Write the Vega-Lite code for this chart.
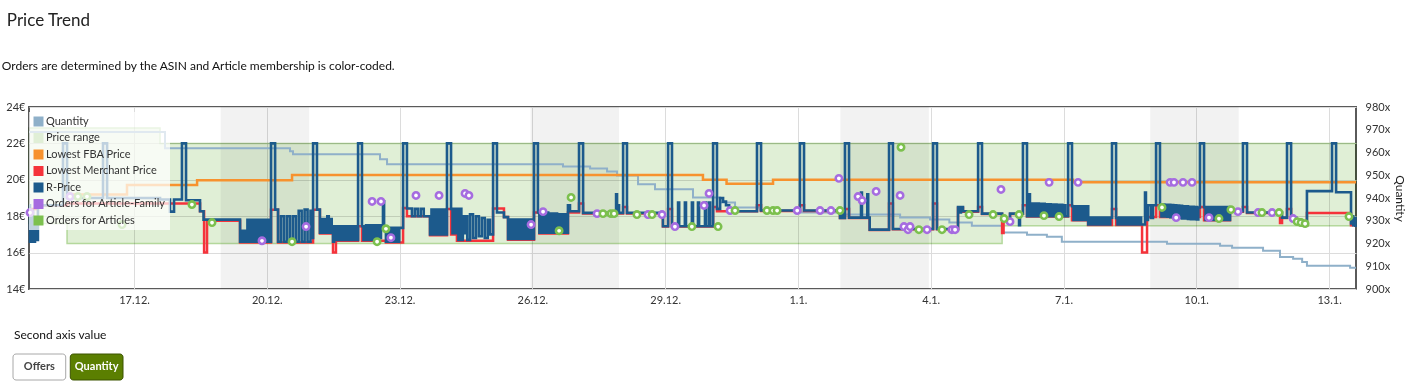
{
"$schema": "https://vega.github.io/schema/vega-lite/v6.json",
"padding": {"left": 0, "top": 12, "right": 0, "bottom": 0},
"background": "#ffffff",
"title": {"text": "Price Trend", "anchor": "start", "frame": "bounds", "fontSize": 17, "fontWeight": "normal", "font": "Lato", "color": "#222222", "offset": 29, "dx": 6},
"spacing": 22,
"config": {
  "font": "Lato",
  "view": {"stroke": null},
  "axis": {"labelFont": "Lato", "labelFontSize": 11, "labelColor": "#333333", "gridColor": "#dcdcdc", "gridWidth": 1, "titleFont": "Lato"},
  "legend": {"labelFont": "Lato"}
},
"datasets": {
  "we": [{"h":119,"h2":167},{"h":287,"h2":335},{"h":455,"h2":503},{"h":623,"h2":671}],
  "rng": [{"h":15.1,"lo":17.6,"hi":22.85},{"h":35.7,"lo":16.5,"hi":22.85},{"h":86.1,"lo":16.5,"hi":22.0},{"h":542.7,"lo":17.48,"hi":22.0},{"h":734.6,"lo":17.48,"hi":22.0}],
  "qty": [{"h":15.1,"q":969.0},{"h":88.8,"q":961.9},{"h":156.6,"q":960.6},{"h":158.2,"q":959.2},{"h":205.4,"q":957.0},{"h":209.2,"q":954.8},{"h":304.6,"q":953.9},{"h":319.3,"q":953.0},{"h":328.5,"q":951.7},{"h":333.9,"q":949.9},{"h":345.3,"q":946.0},{"h":354.5,"q":943.8},{"h":375.1,"q":940.2},{"h":389.8,"q":938.0},{"h":397.9,"q":935.8},{"h":411.4,"q":934.5},{"h":433.1,"q":933.6},{"h":454.8,"q":932.7},{"h":487.4,"q":931.4},{"h":503.6,"q":930.5},{"h":514.1,"q":929.2},{"h":526.3,"q":927.8},{"h":542.7,"q":924.8},{"h":556.2,"q":923.9},{"h":567.0,"q":923.0},{"h":575.1,"q":920.8},{"h":632.1,"q":919.9},{"h":660.9,"q":919.0},{"h":667.4,"q":918.1},{"h":684.2,"q":916.8},{"h":693.4,"q":914.1},{"h":700.5,"q":913.3},{"h":705.4,"q":911.9},{"h":708.0,"q":910.2},{"h":731.4,"q":909.3},{"h":734.6,"q":909.3}],
  "fba": [{"h":35.7,"p":19.19},{"h":68.2,"p":19.72},{"h":106.2,"p":19.98},{"h":157.7,"p":20.27},{"h":380.5,"p":20.0},{"h":393.3,"p":19.78},{"h":418.5,"p":20.0},{"h":581.2,"p":19.87},{"h":734.6,"p":19.87}],
  "mp": [{"h":15.1,"p":18.4},{"h":19.9,"p":18.6},{"h":35.7,"p":18.7},{"h":107.8,"p":18.27},{"h":110.0,"p":16.0},{"h":111.6,"p":17.75},{"h":129.5,"p":16.55},{"h":146.3,"p":18.36},{"h":150.1,"p":16.55},{"h":169.1,"p":18.36},{"h":172.8,"p":17.05},{"h":179.9,"p":16.0},{"h":181.5,"p":16.65},{"h":193.5,"p":17.45},{"h":195.6,"p":16.65},{"h":208.6,"p":16.55},{"h":217.9,"p":18.45},{"h":220.0,"p":18.0},{"h":232.5,"p":16.95},{"h":241.7,"p":18.4},{"h":243.9,"p":17.0},{"h":247.1,"p":16.65},{"h":266.7,"p":18.42},{"h":272.6,"p":17.95},{"h":274.8,"p":16.7},{"h":288.9,"p":18.2},{"h":291.8,"p":17.05},{"h":307.3,"p":18.2},{"h":313.3,"p":18.7},{"h":315.5,"p":18.15},{"h":337.2,"p":18.5},{"h":339.3,"p":18.15},{"h":358.8,"p":17.43},{"h":361.6,"p":18.4},{"h":363.7,"p":17.43},{"h":386.0,"p":18.5},{"h":388.1,"p":18.27},{"h":409.8,"p":18.6},{"h":412.0,"p":18.29},{"h":433.1,"p":18.6},{"h":435.3,"p":18.29},{"h":454.8,"p":17.9},{"h":457.5,"p":18.4},{"h":459.7,"p":17.9},{"h":470.9,"p":17.24},{"h":481.4,"p":18.7},{"h":483.5,"p":17.28},{"h":505.3,"p":18.7},{"h":507.4,"p":17.28},{"h":518.8,"p":18.45},{"h":521.5,"p":18.25},{"h":529.7,"p":18.5},{"h":531.8,"p":18.12},{"h":542.7,"p":17.08},{"h":543.5,"p":17.8},{"h":547.0,"p":18.12},{"h":554.0,"p":18.6},{"h":556.2,"p":17.98},{"h":578.5,"p":18.6},{"h":580.6,"p":17.78},{"h":589.3,"p":17.52},{"h":602.3,"p":18.4},{"h":604.5,"p":17.52},{"h":618.6,"p":16.0},{"h":621.3,"p":17.96},{"h":626.2,"p":18.6},{"h":628.3,"p":17.96},{"h":650.0,"p":18.5},{"h":652.2,"p":17.78},{"h":666.3,"p":18.25},{"h":673.3,"p":18.5},{"h":675.5,"p":18.18},{"h":693.4,"p":17.63},{"h":694.5,"p":17.9},{"h":697.2,"p":18.4},{"h":699.4,"p":17.9},{"h":702.1,"p":17.78},{"h":704.3,"p":17.58},{"h":706.4,"p":17.48},{"h":708.0,"p":18.18},{"h":731.9,"p":17.5},{"h":734.6,"p":17.5}],
  "rp": [{"h":15.1,"p":18.6},{"h":15.6,"p":16.6},{"h":16.4,"p":18.3},{"h":17.2,"p":16.6},{"h":18.3,"p":17.8},{"h":19.1,"p":16.7},{"h":19.9,"p":18.6},{"h":33.5,"p":22.0},{"h":35.7,"p":19.0},{"h":55.2,"p":22.0},{"h":57.4,"p":19.0},{"h":86.1,"p":18.92},{"h":91.5,"p":18.25},{"h":93.7,"p":18.92},{"h":98.0,"p":22.0},{"h":100.2,"p":18.88},{"h":107.8,"p":18.27},{"h":109.7,"p":17.81},
  {"h":129.5,"p":16.6},{"h":130.3,"p":17.2},{"h":131.1,"p":16.6},{"h":131.9,"p":17.2},{"h":132.7,"p":16.6},{"h":133.5,"p":17.8},{"h":134.3,"p":16.6},{"h":135.1,"p":17.8},{"h":135.9,"p":16.6},{"h":136.7,"p":17.8},{"h":137.5,"p":16.6},{"h":138.3,"p":17.8},{"h":139.1,"p":16.6},{"h":139.9,"p":17.8},{"h":140.7,"p":16.6},{"h":141.5,"p":17.8},{"h":142.3,"p":16.6},{"h":143.1,"p":17.8},{"h":143.9,"p":16.6},{"h":144.7,"p":17.8},{"h":145.5,"p":16.6},
  {"h":146.3,"p":22.0},{"h":148.5,"p":18.36},
  {"h":150.1,"p":16.6},{"h":151.7,"p":18.0},{"h":153.3,"p":16.6},{"h":154.9,"p":18.0},{"h":156.5,"p":16.6},{"h":158.1,"p":18.0},{"h":159.7,"p":16.6},{"h":161.3,"p":18.3},{"h":162.9,"p":16.6},{"h":164.5,"p":18.36},{"h":166.1,"p":16.6},{"h":167.7,"p":18.3},{"h":168.5,"p":16.8},
  {"h":169.1,"p":22.0},{"h":171.2,"p":18.36},
  {"h":172.8,"p":17.1},{"h":173.6,"p":17.85},{"h":174.4,"p":17.1},{"h":175.2,"p":17.85},{"h":176.0,"p":17.1},{"h":176.8,"p":18.0},{"h":177.6,"p":17.1},{"h":178.4,"p":17.85},{"h":179.2,"p":17.1},{"h":179.9,"p":16.6},
  {"h":180.5,"p":17.45},{"h":181.9,"p":16.7},{"h":183.2,"p":17.45},{"h":184.6,"p":16.7},{"h":185.9,"p":17.45},{"h":187.3,"p":16.7},{"h":188.6,"p":17.45},{"h":190.0,"p":16.7},{"h":191.4,"p":17.45},{"h":192.7,"p":16.7},
  {"h":193.5,"p":22.0},{"h":195.6,"p":17.45},
  {"h":196.4,"p":16.7},{"h":197.8,"p":17.5},{"h":199.1,"p":16.7},{"h":200.5,"p":17.5},{"h":201.8,"p":16.7},{"h":203.2,"p":17.5},{"h":204.5,"p":16.8},{"h":205.9,"p":17.5},{"h":207.0,"p":18.82},{"h":207.6,"p":17.3},
  {"h":208.6,"p":16.6},{"h":209.4,"p":17.36},{"h":210.2,"p":16.6},{"h":211.0,"p":17.36},{"h":211.8,"p":16.6},{"h":212.6,"p":17.36},{"h":213.4,"p":16.6},{"h":214.2,"p":17.36},{"h":215.0,"p":16.6},{"h":215.8,"p":17.36},
  {"h":217.9,"p":22.0},{"h":220.0,"p":18.42},
  {"h":222.7,"p":18.0},{"h":224.3,"p":18.4},{"h":225.9,"p":18.0},{"h":227.5,"p":18.4},{"h":229.1,"p":18.0},
  {"h":232.5,"p":17.0},{"h":233.3,"p":18.36},{"h":234.1,"p":17.0},{"h":234.9,"p":18.36},{"h":235.7,"p":17.0},{"h":236.5,"p":18.36},{"h":237.3,"p":17.0},{"h":238.1,"p":18.36},{"h":238.9,"p":17.0},{"h":239.7,"p":18.36},{"h":240.5,"p":17.0},
  {"h":241.7,"p":22.0},{"h":243.9,"p":18.4},
  {"h":244.7,"p":17.07},{"h":245.5,"p":18.4},{"h":246.3,"p":17.07},{"h":247.1,"p":18.4},{"h":247.9,"p":16.7},{"h":248.7,"p":18.4},{"h":249.5,"p":16.7},{"h":250.3,"p":18.0},{"h":251.1,"p":17.07},{"h":251.9,"p":18.0},
  {"h":252.7,"p":16.7},{"h":254.2,"p":18.1},{"h":255.8,"p":16.8},{"h":257.4,"p":18.0},{"h":259.0,"p":16.9},{"h":260.6,"p":17.9},{"h":262.2,"p":16.8},{"h":263.8,"p":17.8},{"h":265.0,"p":17.0},
  {"h":266.7,"p":22.0},{"h":268.8,"p":18.2},{"h":272.6,"p":17.95},
  {"h":274.8,"p":16.75},{"h":275.6,"p":17.81},{"h":276.4,"p":16.75},{"h":277.2,"p":17.81},{"h":278.0,"p":16.75},{"h":278.8,"p":17.81},{"h":279.6,"p":16.75},{"h":280.4,"p":17.81},{"h":281.2,"p":16.75},{"h":282.0,"p":17.81},{"h":282.8,"p":16.75},{"h":283.6,"p":17.81},{"h":284.4,"p":16.75},{"h":285.2,"p":17.81},{"h":286.0,"p":16.75},{"h":286.8,"p":17.81},{"h":287.6,"p":16.75},
  {"h":288.9,"p":22.0},{"h":291.0,"p":18.2},
  {"h":291.8,"p":17.1},{"h":292.6,"p":18.2},{"h":293.4,"p":17.1},{"h":294.2,"p":18.2},{"h":295.0,"p":17.1},{"h":295.8,"p":18.2},{"h":296.6,"p":17.1},{"h":297.4,"p":18.15},{"h":298.2,"p":17.1},{"h":299.0,"p":18.15},{"h":299.8,"p":17.1},{"h":300.6,"p":18.15},{"h":301.4,"p":17.1},{"h":302.2,"p":18.1},{"h":303.0,"p":17.1},{"h":303.8,"p":18.1},{"h":304.6,"p":17.1},{"h":305.4,"p":18.1},{"h":306.2,"p":17.1},
  {"h":307.3,"p":18.6},{"h":308.4,"p":18.27},
  {"h":313.3,"p":22.0},{"h":315.5,"p":18.18},{"h":333.4,"p":19.2},{"h":333.9,"p":18.18},{"h":334.4,"p":18.6},{"h":335.0,"p":18.18},
  {"h":337.2,"p":22.0},{"h":339.3,"p":18.18},{"h":358.8,"p":17.45},
  {"h":361.6,"p":22.0},{"h":363.7,"p":17.45},
  {"h":367.0,"p":18.75},{"h":367.6,"p":17.45},{"h":370.7,"p":18.75},{"h":371.3,"p":17.45},{"h":374.5,"p":18.75},{"h":375.1,"p":17.45},{"h":377.8,"p":18.75},{"h":378.4,"p":17.45},{"h":381.6,"p":18.75},{"h":382.2,"p":17.45},{"h":383.8,"p":18.75},{"h":384.4,"p":17.45},
  {"h":386.0,"p":22.0},{"h":388.1,"p":18.4},{"h":389.8,"p":19.0},{"h":391.4,"p":18.8},{"h":393.0,"p":18.6},{"h":394.7,"p":18.4},{"h":395.8,"p":18.27},
  {"h":409.8,"p":22.0},{"h":412.0,"p":18.31},
  {"h":433.1,"p":22.0},{"h":435.3,"p":18.31},
  {"h":454.8,"p":17.9},{"h":455.6,"p":18.2},{"h":456.4,"p":17.9},
  {"h":457.5,"p":22.0},{"h":459.7,"p":17.92},{"h":466.2,"p":19.3},{"h":466.7,"p":17.92},{"h":469.6,"p":19.2},{"h":470.1,"p":17.92},{"h":470.9,"p":17.26},
  {"h":481.4,"p":22.0},{"h":483.5,"p":17.3},
  {"h":505.3,"p":22.0},{"h":507.4,"p":17.3},
  {"h":518.8,"p":18.5},{"h":519.6,"p":18.2},{"h":520.4,"p":18.5},{"h":521.5,"p":18.27},
  {"h":529.7,"p":22.0},{"h":531.8,"p":18.14},{"h":542.7,"p":17.81},{"h":547.0,"p":18.14},{"h":551.9,"p":17.5},{"h":552.4,"p":18.14},
  {"h":554.0,"p":22.0},{"h":556.2,"p":18.0},{"h":557.3,"p":19.2},{"h":557.8,"p":18.0},
  {"h":558.6,"p":18.7},{"h":559.4,"p":18.0},{"h":560.2,"p":18.7},{"h":561.0,"p":18.0},{"h":561.8,"p":18.7},{"h":562.6,"p":18.0},{"h":563.4,"p":18.68},{"h":564.2,"p":18.0},{"h":565.0,"p":18.68},{"h":565.8,"p":18.0},{"h":566.6,"p":18.66},{"h":567.4,"p":18.0},{"h":568.2,"p":18.66},{"h":569.0,"p":18.0},{"h":569.8,"p":18.64},{"h":570.6,"p":18.0},{"h":571.4,"p":18.64},{"h":572.2,"p":18.0},{"h":573.0,"p":18.62},{"h":573.8,"p":18.0},{"h":574.6,"p":18.62},{"h":575.4,"p":18.0},{"h":576.2,"p":18.6},{"h":577.0,"p":18.0},
  {"h":578.5,"p":22.0},{"h":580.6,"p":18.55},
  {"h":581.4,"p":17.8},{"h":582.2,"p":18.55},{"h":583.0,"p":17.8},{"h":583.8,"p":18.55},{"h":584.6,"p":17.8},{"h":585.4,"p":18.55},{"h":586.2,"p":17.8},{"h":587.0,"p":18.55},{"h":587.8,"p":17.8},{"h":588.6,"p":18.55},
  {"h":589.4,"p":17.54},{"h":590.2,"p":17.92},{"h":591.0,"p":17.54},{"h":591.8,"p":17.92},{"h":592.6,"p":17.54},{"h":593.4,"p":17.92},{"h":594.2,"p":17.54},{"h":595.0,"p":17.92},{"h":595.8,"p":17.54},{"h":596.6,"p":17.92},{"h":597.4,"p":17.54},{"h":598.2,"p":17.92},{"h":599.0,"p":17.54},{"h":599.8,"p":17.92},{"h":600.6,"p":17.54},{"h":601.4,"p":17.92},
  {"h":602.3,"p":22.0},{"h":604.5,"p":17.9},
  {"h":605.3,"p":17.54},{"h":606.1,"p":17.92},{"h":606.9,"p":17.54},{"h":607.7,"p":17.92},{"h":608.5,"p":17.54},{"h":609.3,"p":17.92},{"h":610.1,"p":17.54},{"h":610.9,"p":17.92},{"h":611.7,"p":17.54},{"h":612.5,"p":17.92},{"h":613.3,"p":17.54},{"h":614.1,"p":17.92},{"h":614.9,"p":17.54},{"h":615.7,"p":17.92},{"h":616.5,"p":17.54},{"h":617.3,"p":17.92},{"h":618.1,"p":17.54},
  {"h":620.2,"p":19.3},{"h":620.7,"p":17.8},{"h":621.8,"p":18.6},{"h":623.4,"p":17.9},{"h":624.5,"p":18.6},
  {"h":626.2,"p":22.0},{"h":628.3,"p":18.6},
  {"h":629.1,"p":17.98},{"h":629.9,"p":18.64},{"h":630.7,"p":17.98},{"h":631.5,"p":18.63},{"h":632.3,"p":17.97},{"h":633.1,"p":18.62},{"h":633.9,"p":17.95},{"h":634.7,"p":18.61},{"h":635.5,"p":17.93},{"h":636.3,"p":18.6},{"h":637.1,"p":17.92},{"h":637.9,"p":18.58},{"h":638.7,"p":17.9},{"h":639.5,"p":18.57},{"h":640.3,"p":17.88},{"h":641.1,"p":18.55},{"h":641.9,"p":17.87},{"h":642.7,"p":18.54},{"h":643.5,"p":17.85},{"h":644.3,"p":18.52},{"h":645.1,"p":17.84},{"h":645.9,"p":18.51},{"h":646.7,"p":17.83},{"h":647.5,"p":18.5},{"h":648.3,"p":17.82},{"h":649.1,"p":18.48},
  {"h":650.0,"p":22.0},{"h":652.2,"p":18.5},
  {"h":653.0,"p":17.8},{"h":653.8,"p":18.5},{"h":654.6,"p":17.8},{"h":655.4,"p":18.5},{"h":656.2,"p":17.8},{"h":657.0,"p":18.5},{"h":657.8,"p":17.8},{"h":658.6,"p":18.5},{"h":659.4,"p":17.8},{"h":660.2,"p":18.5},{"h":661.0,"p":17.8},{"h":661.8,"p":18.5},{"h":662.6,"p":17.8},{"h":663.4,"p":18.5},{"h":664.2,"p":17.8},{"h":665.0,"p":18.5},{"h":665.8,"p":17.8},
  {"h":666.3,"p":18.27},
  {"h":673.3,"p":22.0},{"h":675.5,"p":18.2},{"h":694.5,"p":17.92},
  {"h":697.2,"p":22.0},{"h":699.4,"p":17.92},{"h":702.1,"p":17.8},{"h":704.3,"p":17.6},{"h":706.4,"p":17.5},{"h":708.0,"p":19.38},
  {"h":721.6,"p":22.0},{"h":723.8,"p":19.32},{"h":731.9,"p":17.6},{"h":732.5,"p":18.0},{"h":733.1,"p":17.5},{"h":733.7,"p":17.9},{"h":734.3,"p":17.4}],
  "of": [{"h":15.6,"p":18.2},{"h":37.3,"p":19.08},{"h":141.4,"p":16.65},{"h":165.3,"p":17.43},{"h":201.1,"p":18.81},{"h":205.9,"p":18.81},{"h":211.3,"p":16.82},{"h":224.9,"p":19.14},{"h":237.4,"p":19.14},{"h":251.5,"p":19.25},{"h":253.6,"p":19.14},{"h":287.3,"p":17.54},{"h":293.8,"p":18.25},{"h":323.1,"p":18.14},{"h":350.7,"p":18.09},{"h":358.3,"p":18.09},{"h":365.3,"p":17.43},{"h":381.1,"p":18.59},{"h":383.8,"p":19.25},{"h":395.2,"p":18.31},{"h":431.6,"p":18.31},{"h":444.0,"p":18.31},{"h":449.9,"p":18.31},{"h":454.2,"p":20.08},{"h":464.6,"p":19.08},{"h":466.8,"p":18.86},{"h":474.4,"p":19.36},{"h":487.4,"p":19.14},{"h":489.5,"p":17.43},{"h":491.7,"p":17.26},{"h":492.8,"p":17.43},{"h":502.0,"p":17.26},{"h":515.5,"p":17.26},{"h":517.2,"p":17.26},{"h":542.1,"p":19.47},{"h":547.0,"p":17.7},{"h":568.2,"p":19.86},{"h":583.9,"p":19.86},{"h":633.8,"p":19.86},{"h":635.9,"p":19.86},{"h":640.8,"p":19.86},{"h":645.7,"p":19.86},{"h":637.1,"p":17.92},{"h":654.9,"p":17.92},{"h":670.6,"p":18.25},{"h":681.5,"p":18.2},{"h":689.1,"p":18.2},{"h":700.5,"p":17.87}],
  "oa": [{"h":41.6,"p":19.08},{"h":46.5,"p":19.08},{"h":65.5,"p":17.54},{"h":103.4,"p":18.64},{"h":114.3,"p":17.65},{"h":157.7,"p":16.6},{"h":203.8,"p":16.6},{"h":208.6,"p":17.31},{"h":302.5,"p":17.2},{"h":309.0,"p":19.03},{"h":326.3,"p":18.14},{"h":330.6,"p":18.14},{"h":332.3,"p":18.14},{"h":344.7,"p":18.09},{"h":352.9,"p":18.09},{"h":374.5,"p":17.43},{"h":388.7,"p":17.43},{"h":397.9,"p":18.31},{"h":415.2,"p":18.31},{"h":418.5,"p":18.31},{"h":420.7,"p":18.31},{"h":454.8,"p":18.31},{"h":487.9,"p":21.79},{"h":497.6,"p":17.26},{"h":510.1,"p":17.26},{"h":524.8,"p":18.09},{"h":537.8,"p":18.09},{"h":543.8,"p":17.87},{"h":551.9,"p":18.09},{"h":565.4,"p":18.03},{"h":573.6,"p":17.98},{"h":629.4,"p":18.48},{"h":660.3,"p":17.87},{"h":666.8,"p":18.36},{"h":683.6,"p":18.2},{"h":692.9,"p":18.2},{"h":702.7,"p":17.7},{"h":704.8,"p":17.65},{"h":707.0,"p":17.59},{"h":730.8,"p":17.98}]
},
"vconcat": [
  {
    "title": {"text": "Orders are determined by the ASIN and Article membership is color-coded.", "anchor": "start", "frame": "bounds", "fontSize": 12, "fontWeight": "normal", "color": "#111111", "offset": 28, "dx": -4},
    "width": 1327,
    "height": 182,
    "view": {"stroke": "#5a5a5a", "strokeWidth": 2},
    "resolve": {"scale": {"y": "independent"}, "axis": {"y": "independent"}},
    "layer": [
      {
        "layer": [
          {
            "data": {"name": "we"},
            "mark": {"type": "rect", "color": "#000000", "opacity": 0.05},
            "encoding": {
              "x": {"field": "h", "type": "quantitative", "title": null,
                    "scale": {"domain": [15.06, 734.6], "nice": false, "zero": false},
                    "axis": {"values": [72,144,216,288,360,432,504,576,648,720], "labelExpr": "timeFormat(datetime(2020, 11, 14 + datum.value / 24), '%-d.%-m.')", "grid": true, "ticks": false, "domain": false, "labelPadding": 5, "title": null}},
              "x2": {"field": "h2"}
            }
          },
          {
            "data": {"name": "rng"},
            "mark": {"type": "area", "interpolate": "step-after", "blend": "multiply", "stroke": "#b4d89c", "strokeWidth": 1.5},
            "encoding": {
              "x": {"field": "h", "type": "quantitative", "title": null},
              "y": {"field": "lo", "type": "quantitative", "title": null,
                    "scale": {"domain": [14, 24], "nice": false, "zero": false},
                    "axis": {"orient": "left", "values": [14,16,18,20,22,24], "labelExpr": "datum.value + '€'", "grid": true, "ticks": false, "domain": false, "labelPadding": 4, "title": null}},
              "y2": {"field": "hi"},
              "color": {"datum": "Price range", "type": "nominal",
                "scale": {"domain": ["Quantity", "Price range", "Lowest FBA Price", "Lowest Merchant Price", "R-Price", "Orders for Article-Family", "Orders for Articles"],
                          "range": ["#8fb0c9", "#e0efd6", "#f7922e", "#f5333b", "#1c5a8c", "#a66ce0", "#7cc04e"]},
                "legend": {"title": null, "orient": "none", "legendX": 0, "legendY": 5, "padding": 4, "fillColor": "rgba(255,255,255,0.72)",
                  "symbolType": "square", "symbolSize": 100, "symbolStrokeWidth": 0, "labelFontSize": 11, "labelColor": "#333333", "labelOffset": 2, "rowPadding": 4.5,
                  "encode": {"symbols": {"update": {"fill": {"scale": "color", "field": "value"}, "fillOpacity": {"value": 1}, "stroke": {"value": "transparent"}, "opacity": {"value": 1}, "shape": {"value": "square"}, "size": {"value": 100}}}}}}
            }
          }
        ]
      },
      {
        "data": {"name": "qty"},
        "mark": {"type": "line", "interpolate": "step-after", "strokeWidth": 2, "color": "#8aa8bd"},
        "encoding": {
          "x": {"field": "h", "type": "quantitative", "title": null},
          "y": {"field": "q", "type": "quantitative", "title": "Quantity",
                "scale": {"domain": [900, 980], "nice": false, "zero": false},
                "axis": {"orient": "right", "values": [900,910,920,930,940,950,960,970,980], "labelExpr": "datum.value + 'x'", "grid": false, "ticks": false, "domain": false, "labelPadding": 9, "title": "Quantity", "titleFontSize": 12, "titleFontWeight": "normal", "titleColor": "#222222", "titlePadding": 3}},
          "color": {"datum": "Quantity", "type": "nominal"}
        }
      },
      {
        "layer": [
          {
            "data": {"name": "fba"},
            "mark": {"type": "line", "interpolate": "step-after", "strokeWidth": 2.5},
            "encoding": {
              "x": {"field": "h", "type": "quantitative", "title": null},
              "y": {"field": "p", "type": "quantitative", "title": null, "scale": {"domain": [14, 24], "nice": false, "zero": false}, "axis": null},
              "color": {"datum": "Lowest FBA Price", "type": "nominal"}
            }
          },
          {
            "data": {"name": "mp"},
            "mark": {"type": "line", "interpolate": "step-after", "strokeWidth": 2.5},
            "encoding": {
              "x": {"field": "h", "type": "quantitative", "title": null},
              "y": {"field": "p", "type": "quantitative", "title": null},
              "color": {"datum": "Lowest Merchant Price", "type": "nominal"}
            }
          },
          {
            "data": {"name": "rp"},
            "mark": {"type": "line", "interpolate": "step-after", "strokeWidth": 2.6},
            "encoding": {
              "x": {"field": "h", "type": "quantitative", "title": null},
              "y": {"field": "p", "type": "quantitative", "title": null},
              "color": {"datum": "R-Price", "type": "nominal"}
            }
          },
          {
            "data": {"name": "of"},
            "mark": {"type": "point", "shape": "circle", "filled": false, "fill": "#ffffff", "fillOpacity": 1, "size": 40, "strokeWidth": 2.6, "opacity": 1},
            "encoding": {
              "x": {"field": "h", "type": "quantitative", "title": null},
              "y": {"field": "p", "type": "quantitative", "title": null},
              "color": {"datum": "Orders for Article-Family", "type": "nominal"}
            }
          },
          {
            "data": {"name": "oa"},
            "mark": {"type": "point", "shape": "circle", "filled": false, "fill": "#ffffff", "fillOpacity": 1, "size": 40, "strokeWidth": 2.6, "opacity": 1},
            "encoding": {
              "x": {"field": "h", "type": "quantitative", "title": null},
              "y": {"field": "p", "type": "quantitative", "title": null},
              "color": {"datum": "Orders for Articles", "type": "nominal"}
            }
          }
        ]
      }
    ]
  },
  {
    "title": {"text": "Second axis value", "anchor": "start", "frame": "group", "fontSize": 12, "fontWeight": "normal", "color": "#111111", "offset": 12, "dx": -15},
    "width": 110,
    "height": 26,
    "data": {"values": [{"label": "Offers", "active": "no"}, {"label": "Quantity", "active": "yes"}]},
    "layer": [
      {
        "mark": {"type": "bar", "cornerRadius": 3, "strokeWidth": 1},
        "encoding": {
          "x": {"field": "label", "type": "nominal", "sort": null, "axis": null, "scale": {"range": [-16, 94], "paddingInner": 0.08, "paddingOuter": 0}},
          "fill": {"condition": {"test": "datum.active === 'yes'", "value": "#5b7f01"}, "value": "#ffffff"},
          "stroke": {"condition": {"test": "datum.active === 'yes'", "value": "#3c5400"}, "value": "#a8a8a8"}
        }
      },
      {
        "mark": {"type": "text", "fontWeight": "bold", "fontSize": 11},
        "encoding": {
          "x": {"field": "label", "type": "nominal", "sort": null, "axis": null},
          "text": {"field": "label"},
          "color": {"condition": {"test": "datum.active === 'yes'", "value": "#ffffff"}, "value": "#444444"}
        }
      }
    ]
  }
]
}
